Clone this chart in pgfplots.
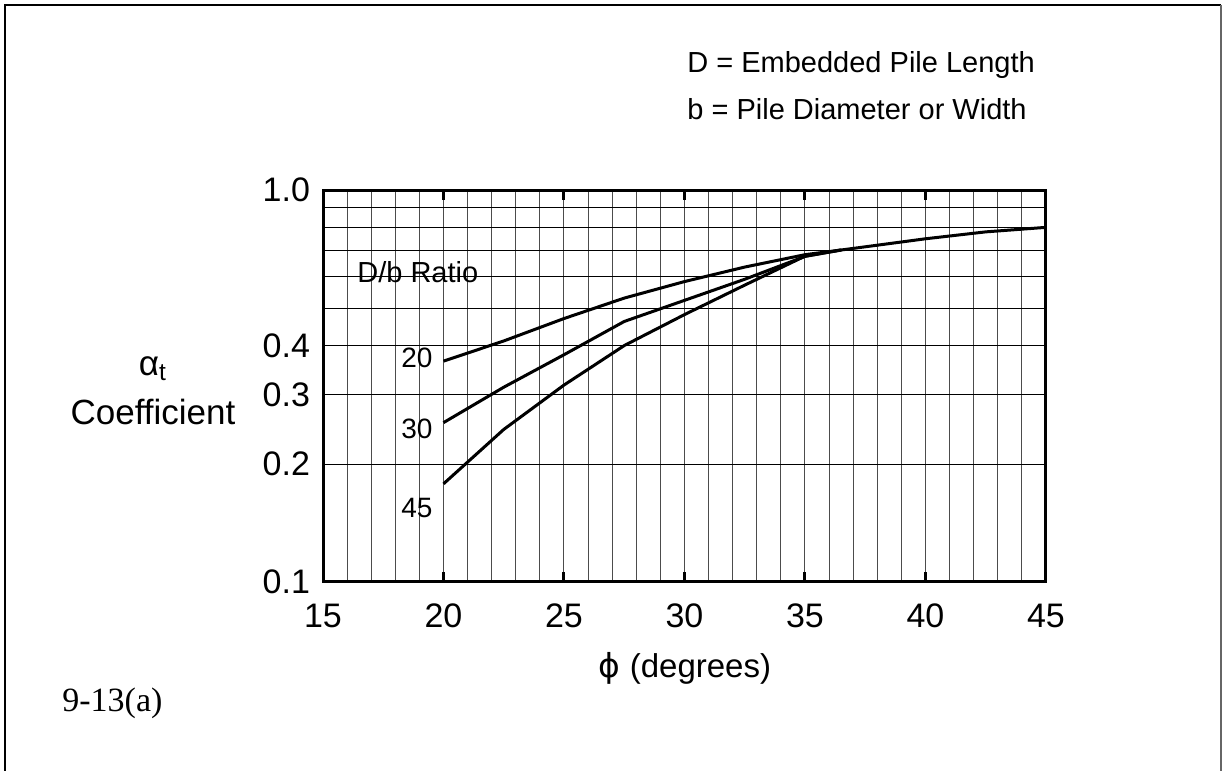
\documentclass[border=0pt]{standalone}
\usepackage{pgfplots}
\pgfplotsset{compat=1.18}
\usepackage{fontspec}
\setmainfont{Liberation Sans}
\newfontfamily\timesfont{Liberation Serif}
\newfontfamily\dejavu{DejaVu Sans}

\begin{document}
\begin{tikzpicture}
\path[use as bounding box] (0,0) rectangle (611.5pt,385.5pt);
% outer frame (open at the bottom)
\draw[line width=1pt] (2.5pt,0) -- (2.5pt,383pt) -- (610.5pt,383pt);
\draw[line width=0.8pt, black!60] (610.5pt,383pt) -- (610.5pt,0);

\begin{axis}[
at={(161.5pt,94.5pt)}, anchor=south west,
scale only axis, width=361.5pt, height=196pt,
xmin=15, xmax=45,
ymode=log, ymin=0.1, ymax=1,
xtick={15,20,25,30,35,40,45},
minor xtick={16,17,18,19,21,22,23,24,26,27,28,29,31,32,33,34,36,37,38,39,41,42,43,44},
ytick={0.1,0.2,0.3,0.4,1},
yticklabels={0.1,0.2,0.3,0.4,1.0},
minor ytick={0.5,0.6,0.7,0.8,0.9},
log ticks with fixed point,
grid=both,
major x grid style={black!70, line width=0.5pt},
minor x grid style={black!70, line width=0.5pt},
major y grid style={black, line width=0.5pt},
minor y grid style={black, line width=0.5pt},
axis line style={line width=1.5pt},
xtick style={line width=1.5pt, black},
ytick style={draw=none},
minor tick length=0pt,
major tick length=5pt,
tick align=inside,
/pgf/number format/assume math mode=true,
ticklabel style={font=\fontsize{17}{20}\selectfont},
xticklabel style={anchor=base, yshift=-23pt},
yticklabel style={xshift=-3pt},
]
% D/b = 20
\addplot[black, line width=1.5pt] coordinates {
(20,0.366) (22.5,0.412) (25,0.470) (27.5,0.530) (30,0.584)
(32.5,0.636) (35,0.684) (36.5,0.703) (40,0.751) (42.5,0.782) (45,0.803)
};
% D/b = 30
\addplot[black, line width=1.5pt] coordinates {
(20,0.255) (22.5,0.314) (25,0.380) (27.5,0.462) (30,0.523)
(32.5,0.592) (35,0.677) (36.5,0.703)
};
% D/b = 45
\addplot[black, line width=1.5pt] coordinates {
(20,0.178) (22.5,0.245) (25,0.318) (27.5,0.401) (30,0.481)
(32.5,0.572) (35,0.678) (36.5,0.703)
};
\node[anchor=base west, font=\fontsize{14.5}{17}\selectfont, inner sep=0pt] at (axis cs:16.41,0.582) {D/b Ratio};
\node[anchor=base east, font=\fontsize{14}{16}\selectfont, inner sep=0pt] at (axis cs:19.56,0.3535) {20};
\node[anchor=base east, font=\fontsize{14}{16}\selectfont, inner sep=0pt] at (axis cs:19.56,0.2317) {30};
\node[anchor=base east, font=\fontsize{14}{16}\selectfont, inner sep=0pt] at (axis cs:19.56,0.1457) {45};
\end{axis}

\node[anchor=base west, font=\fontsize{14.5}{17}\selectfont, inner sep=0pt] at (343.5pt,349pt) {D = Embedded Pile Length};
\node[anchor=base west, font=\fontsize{14.5}{17}\selectfont, inner sep=0pt] at (343.5pt,325.5pt) {b = Pile Diameter or Width};
\node[font=\fontsize{17.5}{20}\selectfont, inner sep=0pt] at (76.5pt,201pt) {α\textsubscript{t}};
\node[font=\fontsize{17.5}{20}\selectfont, inner sep=0pt] at (76.5pt,179.5pt) {Coefficient};
\node[anchor=base, font=\fontsize{16.5}{20}\selectfont, inner sep=0pt] at (342.5pt,46.5pt) {{\dejavu ϕ} (degrees)};
\node[anchor=base west, font=\timesfont\fontsize{17}{20}\selectfont, inner sep=0pt] at (31pt,29.5pt) {9-13(a)};
\end{tikzpicture}
\end{document}
